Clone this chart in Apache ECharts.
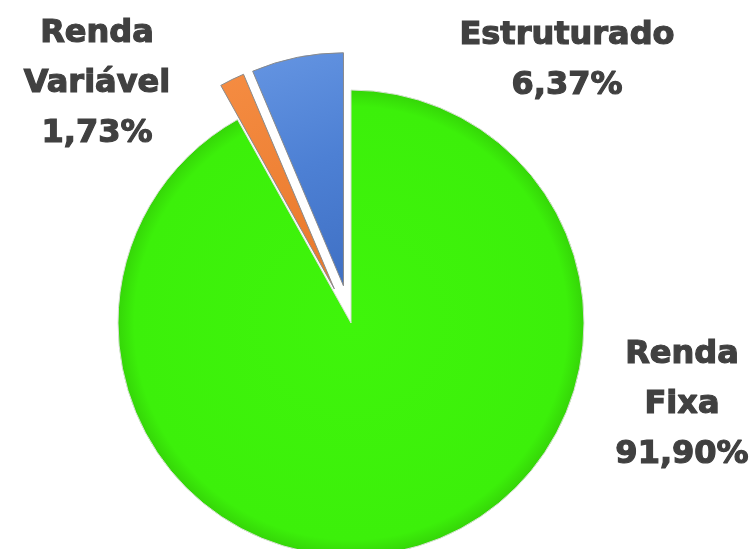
<!DOCTYPE html>
<html>
<head>
<meta charset="utf-8">
<script src="https://cdn.jsdelivr.net/npm/echarts@6/dist/echarts.min.js"></script>
<style>html,body{margin:0;padding:0;background:#fff;}#c{width:754px;height:549px;}</style>
</head>
<body>
<div id="c"></div>
<script>
var categories = ['Renda\nFixa', 'Renda\nVariável', 'Estruturado'];
var values = [91.90, 1.73, 6.37];
var exploded = [false, true, true];
var labelPos = [[682, 330], [97, 9], [567, 11]];

var chart = echarts.init(document.getElementById('c'));
var CX = 351, CY = 323, R = 233;
var fills = [
  {type: 'radial', x: CX, y: CY, r: R, global: true,
   colorStops: [{offset: 0, color: '#3ff50b'}, {offset: 0.93, color: '#3cf00a'}, {offset: 1, color: '#35d608'}]},
  {type: 'linear', x: 0, y: 0, x2: 1, y2: 1,
   colorStops: [{offset: 0, color: '#f58c42'}, {offset: 1, color: '#e8782a'}]},
  {type: 'linear', x: 0, y: 0, x2: 1, y2: 1,
   colorStops: [{offset: 0, color: '#6595e2'}, {offset: 0.5, color: '#4d80d4'}, {offset: 1, color: '#3f70c4'}]}
];
var data = categories.map(function (n, i) {
  return {
    name: n,
    value: values[i],
    selected: exploded[i],
    itemStyle: {
      color: fills[i],
      borderColor: i === 0 ? '#d8e0d4' : '#8a8a8a',
      borderWidth: 1
    }
  };
});
var texts = categories.map(function (n, i) {
  return {
    type: 'text',
    x: labelPos[i][0],
    y: labelPos[i][1],
    style: {
      text: n + '\n' + values[i].toFixed(2).replace('.', ',') + '%',
      fontFamily: 'DejaVu Sans',
      fontWeight: 'bold',
      fontSize: 32,
      lineHeight: 50,
      fill: '#404040',
      stroke: '#404040',
      lineWidth: 1.2,
      align: 'center',
      verticalAlign: 'top'
    }
  };
});
chart.setOption({
  animation: false,
  graphic: texts,
  series: [{
    type: 'pie',
    center: [CX, CY],
    radius: [0, R],
    startAngle: 90,
    clockwise: true,
    selectedMode: 'multiple',
    selectedOffset: 38,
    data: data,
    label: {show: false},
    labelLine: {show: false},
    emphasis: {disabled: true}
  }]
});
</script>
</body>
</html>
